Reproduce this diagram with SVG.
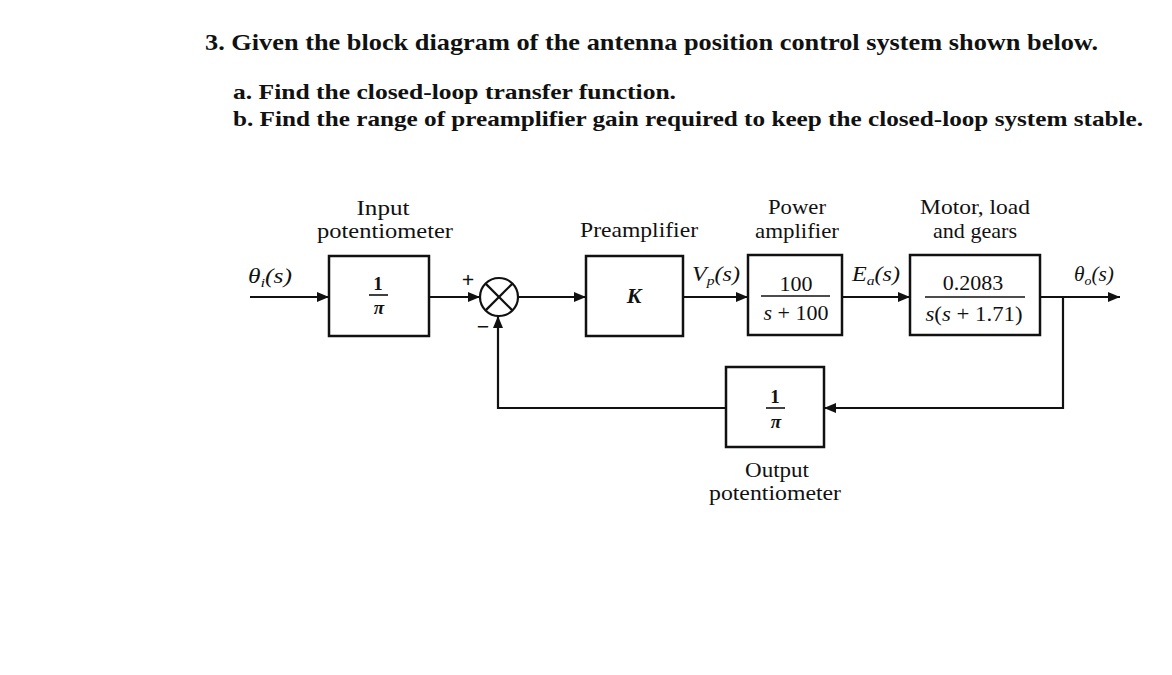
<svg xmlns="http://www.w3.org/2000/svg" width="1172" height="675" viewBox="0 0 1172 675">
<defs>
<marker id="ah" viewBox="0 0 12 10" refX="12" refY="5" markerWidth="12" markerHeight="10" markerUnits="userSpaceOnUse" orient="auto">
<path d="M0,0 L12,5 L0,10 z" fill="#111"/>
</marker>
</defs>
<style>
.q{font-family:"Liberation Serif",serif;font-weight:bold;fill:#111;}
.t{font-family:"Liberation Serif",serif;font-size:22px;fill:#111;text-anchor:middle;}
.f{font-family:"Liberation Serif",serif;font-size:19px;font-weight:bold;fill:#111;text-anchor:middle;}
.i{font-family:"Liberation Serif",serif;font-size:20px;font-style:italic;fill:#111;}
.blk{fill:#fff;stroke:#111;stroke-width:2.5;}
.ln{fill:none;stroke:#111;stroke-width:2.2;}
.bar{stroke:#111;stroke-width:1.6;}
</style>
<rect width="1172" height="675" fill="#fff"/>
<g id="question">
<text class="q" x="205" y="50" font-size="23" textLength="893" lengthAdjust="spacingAndGlyphs">3. Given the block diagram of the antenna position control system shown below.</text>
<text class="q" x="233" y="99" font-size="21" textLength="443" lengthAdjust="spacingAndGlyphs">a. Find the closed-loop transfer function.</text>
<text class="q" x="233" y="126" font-size="21" textLength="910" lengthAdjust="spacingAndGlyphs">b. Find the range of preamplifier gain required to keep the closed-loop system stable.</text>
</g>
<g id="connectors">
<line class="ln" x1="250" y1="297" x2="329" y2="297" marker-end="url(#ah)"/>
<line class="ln" x1="429" y1="297" x2="480" y2="297" marker-end="url(#ah)"/>
<line class="ln" x1="518" y1="297" x2="586" y2="297" marker-end="url(#ah)"/>
<line class="ln" x1="683" y1="297" x2="748" y2="297" marker-end="url(#ah)"/>
<line class="ln" x1="842" y1="297" x2="910" y2="297" marker-end="url(#ah)"/>
<line class="ln" x1="1040" y1="297" x2="1120" y2="297" marker-end="url(#ah)"/>
<polyline class="ln" points="1063,297 1063,408 824,408" marker-end="url(#ah)"/>
<polyline class="ln" points="726,408 498,408 498,316" marker-end="url(#ah)"/>
<text class="i" x="248" y="283" textLength="44" lengthAdjust="spacingAndGlyphs">θ<tspan font-size="13" dy="4">i</tspan><tspan dy="-4">(s)</tspan></text>
<text class="i" x="692" y="281" textLength="48" lengthAdjust="spacingAndGlyphs">V<tspan font-size="13" dy="4">p</tspan><tspan dy="-4">(s)</tspan></text>
<text class="i" x="852" y="281" textLength="48" lengthAdjust="spacingAndGlyphs">E<tspan font-size="13" dy="4">a</tspan><tspan dy="-4">(s)</tspan></text>
<text class="i" x="1074" y="281" textLength="40" lengthAdjust="spacingAndGlyphs">θ<tspan font-size="13" dy="4">o</tspan><tspan dy="-4">(s)</tspan></text>
<text class="t" x="468" y="287" font-weight="bold" font-size="18">+</text>
<text class="t" x="483" y="334" font-weight="bold" font-size="22">−</text>
</g>
<g id="input-pot">
<rect class="blk" x="329" y="256" width="100" height="80"/>
<text class="t" x="383" y="215" textLength="53" lengthAdjust="spacingAndGlyphs">Input</text>
<text class="t" x="385" y="238" textLength="136" lengthAdjust="spacingAndGlyphs">potentiometer</text>
<text class="f" x="378" y="290">1</text>
<line class="bar" x1="369" y1="295" x2="388" y2="295"/>
<text class="f" x="379" y="314" font-style="italic">π</text>
</g>
<g id="sum">
<circle cx="499" cy="297" r="19" fill="#fff" stroke="#111" stroke-width="2.2"/>
<line class="ln" x1="485.6" y1="283.6" x2="512.4" y2="310.4"/>
<line class="ln" x1="512.4" y1="283.6" x2="485.6" y2="310.4"/>
</g>
<g id="preamp">
<rect class="blk" x="586" y="256" width="97" height="80"/>
<text class="t" x="639" y="237" textLength="118" lengthAdjust="spacingAndGlyphs">Preamplifier</text>
<text class="t" x="634" y="303" font-style="italic" font-weight="bold">K</text>
</g>
<g id="power-amp">
<rect class="blk" x="748" y="255" width="94" height="80"/>
<text class="t" x="797" y="214" textLength="58" lengthAdjust="spacingAndGlyphs">Power</text>
<text class="t" x="797" y="238" textLength="84" lengthAdjust="spacingAndGlyphs">amplifier</text>
<text class="t" x="796" y="291">100</text>
<line class="bar" x1="761" y1="296" x2="830" y2="296"/>
<text class="t" x="796" y="320"><tspan font-style="italic">s</tspan> + 100</text>
</g>
<g id="motor">
<rect class="blk" x="910" y="255" width="130" height="80"/>
<text class="t" x="975" y="214" textLength="110" lengthAdjust="spacingAndGlyphs">Motor, load</text>
<text class="t" x="975" y="238" textLength="84" lengthAdjust="spacingAndGlyphs">and gears</text>
<text class="t" x="973" y="290">0.2083</text>
<line class="bar" x1="925" y1="297" x2="1025" y2="297"/>
<text class="t" x="974" y="321" textLength="97" lengthAdjust="spacingAndGlyphs"><tspan font-style="italic">s</tspan>(<tspan font-style="italic">s</tspan> + 1.71)</text>
</g>
<g id="output-pot">
<rect class="blk" x="726" y="367" width="98" height="80"/>
<text class="f" x="775" y="403">1</text>
<line class="bar" x1="766" y1="408" x2="785" y2="408"/>
<text class="f" x="776" y="428" font-style="italic">π</text>
<text class="t" x="777" y="477" textLength="64" lengthAdjust="spacingAndGlyphs">Output</text>
<text class="t" x="775" y="500" textLength="132" lengthAdjust="spacingAndGlyphs">potentiometer</text>
</g>
</svg>
